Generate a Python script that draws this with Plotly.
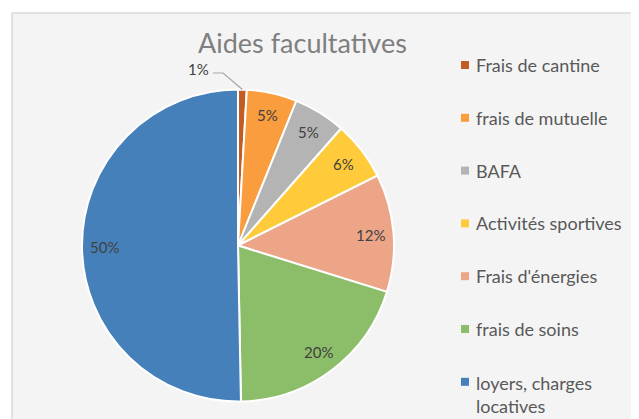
import math
import plotly.graph_objects as go

W, H = 639, 419
OFF = 8  # page body margin of the browser

# ---- data ----
categories = ["Frais de cantine", "frais de mutuelle", "BAFA", "Activités sportives",
              "Frais d'énergies", "frais de soins", "loyers, charges locatives"]
legend_text = ["Frais de cantine", "frais de mutuelle", "BAFA", "Activités sportives",
               "Frais d'énergies", "frais de soins", "loyers, charges<br>locatives"]
values = [0.9, 5.2, 5.4, 6.1, 12.2, 19.9, 50.3]
colors = ["#C25B24", "#F99D3E", "#B4B4B4", "#FFCB3A", "#EDA588", "#8CBE69", "#4580BA"]
title_text = "Aides facultatives"


def px(x):
    return (x - OFF) / W


def py(y):
    return 1 - (y - OFF) / H


# pie geometry (pixels in the final picture)
cx, cy, R = 238, 245.5, 156

fig = go.Figure()
fig.add_trace(go.Pie(
    labels=categories, values=values, sort=False, direction="clockwise", rotation=0,
    marker=dict(colors=colors, line=dict(color="white", width=2)),
    textinfo="none", hoverinfo="label+percent", showlegend=False,
    domain=dict(x=[px(cx - R), px(cx + R)], y=[py(cy + R), py(cy - R)]),
))

annotations = []
shapes = []

# background chart area (cropped at right and bottom)
shapes.append(dict(type="rect", xref="paper", yref="paper", layer="below",
                   x0=px(12), x1=1.05, y0=-0.05, y1=py(13),
                   fillcolor="#f4f4f4", line=dict(color="#d9d9d9", width=1.5)))

# title
annotations.append(dict(text=title_text, x=px(302), y=py(42), xref="paper", yref="paper",
                        showarrow=False, xanchor="center", yanchor="middle",
                        font=dict(family="Lato", size=27, color="#7f7f7f")))

# percentage labels derived from data
total = sum(values)
cum = 0.0
for i, v in enumerate(values):
    frac = v / total
    mid = (cum + frac / 2) * 2 * math.pi
    cum += frac
    label = f"{round(frac * 100)}%"
    if frac < 0.02:
        tipx = cx + R * math.sin(mid)
        tipy = cy - R * math.cos(mid)
        tx, ty = 198, 69
        annotations.append(dict(text=label, x=px(tx), y=py(ty), xref="paper", yref="paper",
                                showarrow=False, xanchor="center", yanchor="middle",
                                font=dict(family="Lato", size=15, color="#404040")))
        shapes.append(dict(type="path", xref="paper", yref="paper",
                           path=f"M {px(tx + 15)},{py(ty + 4)} L {px(tx + 25)},{py(ty + 4)} L {px(tipx)},{py(tipy)}",
                           line=dict(color="#a6a6a6", width=1.2)))
    else:
        r = 0.855 * R
        lx = cx + r * math.sin(mid)
        ly = cy - r * math.cos(mid)
        annotations.append(dict(text=label, x=px(lx), y=py(ly), xref="paper", yref="paper",
                                showarrow=False, xanchor="center", yanchor="middle",
                                font=dict(family="Lato", size=15, color="#404040")))

# legend (manual, Excel-like spacing)
leg_y0, leg_dy = 65, 52.8
for i, (t, c) in enumerate(zip(legend_text, colors)):
    yy = leg_y0 + i * leg_dy
    shapes.append(dict(type="rect", xref="paper", yref="paper",
                       x0=px(461), x1=px(469), y0=py(yy + 4), y1=py(yy - 4),
                       fillcolor=c, line=dict(width=0)))
    if "<br>" in t:
        annotations.append(dict(text=t, x=px(474), y=py(yy - 12), xref="paper", yref="paper",
                                showarrow=False, xanchor="left", yanchor="top", align="left",
                                font=dict(family="Lato", size=18, color="#595959")))
    else:
        annotations.append(dict(text=t, x=px(474), y=py(yy), xref="paper", yref="paper",
                                showarrow=False, xanchor="left", yanchor="middle",
                                font=dict(family="Lato", size=18, color="#595959")))

fig.update_layout(
    width=W, height=H, margin=dict(l=0, r=0, t=0, b=0),
    paper_bgcolor="white", plot_bgcolor="white",
    showlegend=False, annotations=annotations, shapes=shapes,
)

fig.write_html("out.html")
